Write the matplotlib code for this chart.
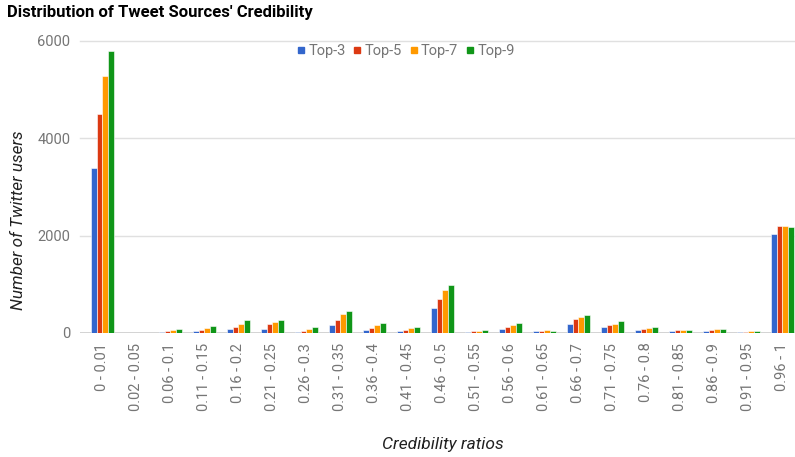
import numpy as np
import matplotlib.pyplot as plt
from matplotlib.lines import Line2D

# ------------------------------------------------------------
# data
# ------------------------------------------------------------
categories = ["0 - 0.01", "0.02 - 0.05", "0.06 - 0.1", "0.11 - 0.15", "0.16 - 0.2",
              "0.21 - 0.25", "0.26 - 0.3", "0.31 - 0.35", "0.36 - 0.4", "0.41 - 0.45",
              "0.46 - 0.5", "0.51 - 0.55", "0.56 - 0.6", "0.61 - 0.65", "0.66 - 0.7",
              "0.71 - 0.75", "0.76 - 0.8", "0.81 - 0.85", "0.86 - 0.9", "0.91 - 0.95",
              "0.96 - 1"]

series_names = ["Top-3", "Top-5", "Top-7", "Top-9"]

top3 = [3395, 8, 20, 35, 75, 75, 20, 170, 55, 35, 510, 15, 75, 35, 190, 120, 55, 50, 50, 15, 2035]
top5 = [4495, 8, 40, 60, 130, 185, 45, 260, 110, 70, 705, 35, 130, 45, 295, 160, 75, 55, 55, 30, 2205]
top7 = [5275, 10, 65, 105, 185, 220, 75, 400, 170, 95, 875, 35, 170, 65, 320, 185, 95, 55, 75, 35, 2205]
top9 = [5795, 10, 85, 150, 260, 275, 120, 445, 200, 130, 985, 55, 200, 45, 360, 255, 120, 65, 85, 35, 2170]

yticks = [0, 2000, 4000, 6000]

colors = ["#3366cc", "#dc3912", "#ff9900", "#109618"]

plt.rcParams["font.family"] = ["Roboto", "DejaVu Sans"]

W, H = 795, 457
fig = plt.figure(figsize=(W / 100, H / 100), dpi=100)

# chart area: left 80px to right edge, y 41..333 px
ax = fig.add_axes([80 / W, (H - 333) / H, (W - 80) / W, (333 - 41) / H])

x = np.arange(len(categories))
bw = 0.167
for i, (vals, c) in enumerate(zip([top3, top5, top7, top9], colors)):
    ax.bar(x + (i - 1.5) * bw, vals, width=bw, color=c,
           edgecolor="white", linewidth=0.4, zorder=3)

ax.set_xlim(-0.656, 20.37)
ax.set_ylim(0, 6000)
ax.set_yticks(yticks)
ax.set_yticklabels([str(v) for v in yticks])
ax.set_xticks(x)
ax.set_xticklabels(categories, rotation=90, va="top", ha="center")

ax.tick_params(axis="y", length=0, pad=7, labelsize=10.5, labelcolor="#757575")
ax.tick_params(axis="x", length=0, pad=7, labelsize=10.5, labelcolor="#757575")

for s in ["top", "right", "left", "bottom"]:
    ax.spines[s].set_visible(False)

for v in yticks[1:]:
    ax.axhline(v, color="#e0e0e0", linewidth=1, zorder=1, clip_on=False)
ax.axhline(0, color="#cccccc", linewidth=1.2, zorder=2)

fig.text(18.5 / W, 1 - 220 / H, "Number of Twitter users", rotation=90,
         ha="center", va="center", fontsize=12.3, style="italic", color="#222222")
fig.text(443 / W, 1 - 445 / H, "Credibility ratios",
         ha="center", va="center", fontsize=12.5, style="italic", color="#222222")
fig.text(7 / W, 1 - 12 / H, "Distribution of Tweet Sources' Credibility",
         ha="left", va="center", fontsize=12, fontweight="bold", color="#000000")

handles = [Line2D([], [], linestyle="none", marker="s", markersize=4.5,
                  markerfacecolor=c, markeredgecolor=c) for c in colors]
fig.legend(handles, series_names, loc="center", bbox_to_anchor=(406 / W, 1 - 51 / H),
           ncol=4, frameon=False, fontsize=10.5, labelcolor="#757575",
           handlelength=0.5, handletextpad=0.25, columnspacing=0.55)

fig.savefig("out.png", dpi=100)
